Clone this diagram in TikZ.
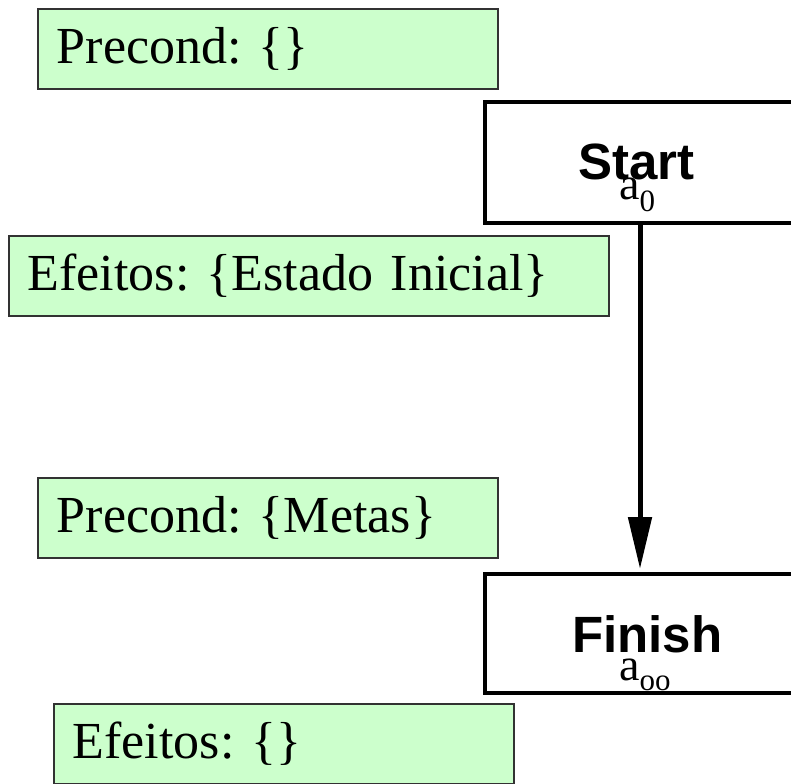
\documentclass[tikz,border=0pt]{standalone}
\usepackage{fontspec}
\setmainfont{Liberation Serif}
\newfontfamily\helv{Liberation Sans}
\usetikzlibrary{arrows.meta}
\definecolor{boxgreen}{RGB}{204,255,204}
\definecolor{boxedge}{RGB}{50,50,50}
\frenchspacing
\tikzset{
  gbox/.style={draw=boxedge, line width=1.6pt, fill=boxgreen, rectangle, anchor=north west,
    minimum height=80pt, inner xsep=19pt, inner ysep=0pt, align=left,
    font=\fontsize{52}{58}\selectfont},
  actbox/.style={draw=black, line width=4pt, rectangle, anchor=north west, inner sep=0pt},
  actname/.style={anchor=base west, inner sep=0pt, font=\helv\bfseries\fontsize{51}{56}\selectfont},
  actsub/.style={anchor=base west, inner sep=0pt, font=\fontsize{46}{50}\selectfont},
  flow/.style={line width=5pt, -{Triangle[length=52pt,width=23pt]}}
}
\begin{document}
\begin{tikzpicture}[x=1pt,y=-1pt]
\useasboundingbox[fill=white] (0,0) rectangle (791,783);
% green condition boxes
\node[gbox, text width=422pt] (preA) at (37,8) {Precond: \{\}};
\node[gbox, text width=562pt] (effA) at (8,235) {Efeitos: \{Estado Inicial\}};
\node[gbox, text width=422pt] (preB) at (37,477) {Precond: \{Metas\}};
\node[gbox, text width=422pt] (effB) at (53,703) {Efeitos: \{\}};
% action boxes
\node[actbox, minimum width=340pt, minimum height=121pt] (start) at (483,100) {};
\node[actbox, minimum width=340pt, minimum height=119pt] (finish) at (483,572) {};
\node[actname] (startlbl) at (578,180) {Start};
\node[actsub] (startsub) at (619,200) {a\raisebox{-12pt}{\fontsize{31}{33}\selectfont 0}};
\node[actname] (finishlbl) at (572,652) {Finish};
\node[actsub] (finishsub) at (619,680) {a\raisebox{-10pt}{\fontsize{31}{33}\selectfont oo}};
% ordering arrow
\draw[flow] ([xshift=157pt]start.south west) -- ([xshift=157pt,yshift=3pt]finish.north west);
\end{tikzpicture}
\end{document}
